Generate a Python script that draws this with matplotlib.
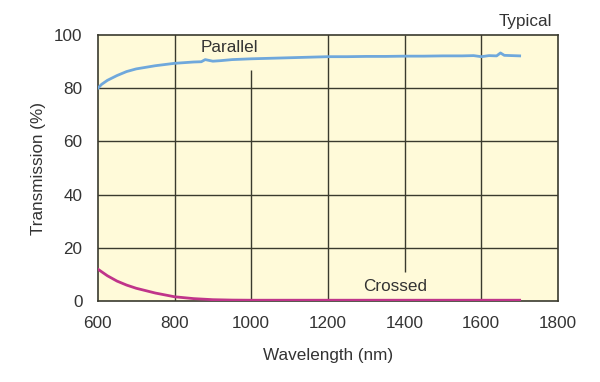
import matplotlib.pyplot as plt
import numpy as np

# data
wl_par = [600, 610, 625, 650, 675, 700, 750, 800, 850, 870, 880, 900, 920, 950, 1000, 1050, 1100,
          1150, 1200, 1250, 1300, 1350, 1400, 1450, 1500, 1550, 1580, 1600, 1620, 1640, 1650,
          1660, 1680, 1700]
t_par = [80.0, 81.5, 83.0, 84.8, 86.3, 87.3, 88.5, 89.4, 89.9, 90.0, 90.8, 90.2, 90.4, 90.8, 91.1,
         91.3, 91.5, 91.7, 91.9, 91.9, 92.0, 92.0, 92.1, 92.1, 92.2, 92.2, 92.3, 91.9, 92.3, 92.2,
         93.3, 92.4, 92.3, 92.2]

wl_cr = [600, 625, 650, 675, 700, 750, 800, 850, 900, 950, 1000, 1100, 1200, 1300, 1400, 1500,
         1600, 1700]
t_cr = [12.0, 9.5, 7.5, 6.0, 4.8, 3.0, 1.6, 0.9, 0.5, 0.35, 0.3, 0.3, 0.3, 0.3, 0.3, 0.3, 0.3, 0.3]

x_ticks = [600, 800, 1000, 1200, 1400, 1600, 1800]
y_ticks = [0, 20, 40, 60, 80, 100]

plt.rcParams['font.family'] = ['Liberation Sans', 'DejaVu Sans']
fs = 12.3
txt_c = '#333333'

fig = plt.figure(figsize=(6, 3.82), dpi=100)
ax = fig.add_axes([0.163, 0.212, 0.767, 0.696])
ax.set_facecolor('#fffad9')

grid_c = '#3a3a2e'
# horizontal grid lines
for y in [20, 40, 60, 80]:
    ax.axhline(y, color=grid_c, lw=1.0, zorder=1)
# vertical grid lines (1000 and 1400 double as label leaders)
for x in [800, 1200, 1600]:
    ax.axvline(x, color=grid_c, lw=1.0, zorder=1)
ax.vlines(1000, 0, 87, color=grid_c, lw=1.0, zorder=1)
ax.vlines(1400, 11, 100, color=grid_c, lw=1.0, zorder=1)

ax.plot(wl_par, t_par, color='#6fa8dc', lw=2.0, zorder=3)
ax.plot(wl_cr, t_cr, color='#c0348a', lw=2.0, zorder=3)

ax.text(944, 95.5, 'Parallel', fontsize=fs, color=txt_c, ha='center', va='center')
ax.text(1375, 5.3, 'Crossed', fontsize=fs, color=txt_c, ha='center', va='center')
ax.text(1714, 105.3, 'Typical', fontsize=fs, color=txt_c, ha='center', va='center', clip_on=False)

ax.set_xlim(600, 1800)
ax.set_ylim(0, 100)
ax.set_xticks(x_ticks)
ax.set_yticks(y_ticks)
ax.tick_params(length=0, labelsize=fs, labelcolor=txt_c)
ax.tick_params(axis='x', pad=11)
ax.tick_params(axis='y', pad=11)
for s in ax.spines.values():
    s.set_color(grid_c)
    s.set_linewidth(1.2)

ax.set_xlabel('Wavelength (nm)', fontsize=fs, color=txt_c, labelpad=12)
ax.set_ylabel('Transmission (%)', fontsize=fs, color=txt_c, labelpad=6)

fig.savefig('out.png', dpi=100)
